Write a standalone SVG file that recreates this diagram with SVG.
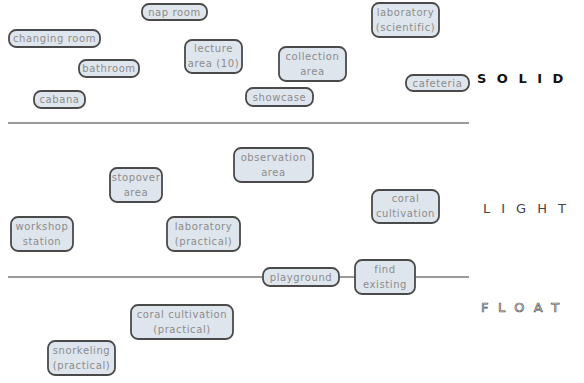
<svg xmlns="http://www.w3.org/2000/svg" width="584" height="383" viewBox="0 0 584 383">
<style>
.n rect{fill:#dfe5ec;stroke:#4a4a4a;stroke-width:1.8}
.n text{font-family:"DejaVu Sans",sans-serif;font-size:10px;fill:#8c8c8c;text-anchor:middle;letter-spacing:0.6px}
.div{stroke:#9a9a9a;stroke-width:2;fill:none}
.lbl{font-family:"DejaVu Sans",sans-serif;font-size:13px}
</style>
<rect width="584" height="383" fill="#ffffff"/>
<g id="dividers">
<line class="div" x1="8" y1="123" x2="469" y2="123"/>
<line class="div" x1="8" y1="277" x2="469" y2="277"/>
</g>
<g id="nap-room" class="n"><rect x="142" y="4" width="65" height="16" rx="7"/><text x="174.5" y="15.5">nap room</text></g>
<g id="changing-room" class="n"><rect x="9" y="30" width="91" height="17" rx="7"/><text x="54.5" y="42">changing room</text></g>
<g id="bathroom" class="n"><rect x="79" y="60" width="60" height="17" rx="7"/><text x="109" y="72">bathroom</text></g>
<g id="cabana" class="n"><rect x="34" y="91" width="51" height="17" rx="7"/><text x="59.5" y="103">cabana</text></g>
<g id="lecture-area" class="n"><rect x="185" y="40" width="57" height="33" rx="7"/><text x="213.5" y="52">lecture</text><text x="213.5" y="67">area (10)</text></g>
<g id="showcase" class="n"><rect x="246" y="88" width="67" height="18" rx="7"/><text x="279.5" y="100.5">showcase</text></g>
<g id="collection-area" class="n"><rect x="279" y="47" width="67" height="34" rx="7"/><text x="312.5" y="59.5">collection</text><text x="312.5" y="74.5">area</text></g>
<g id="laboratory-scientific" class="n"><rect x="372" y="3" width="67" height="34" rx="7"/><text x="405.5" y="15.5">laboratory</text><text x="405.5" y="30.5">(scientific)</text></g>
<g id="cafeteria" class="n"><rect x="406" y="75" width="63" height="16" rx="7"/><text x="437.5" y="86.5">cafeteria</text></g>
<g id="stopover-area" class="n"><rect x="110" y="168" width="52" height="34" rx="7"/><text x="136" y="180.5">stopover</text><text x="136" y="195.5">area</text></g>
<g id="observation-area" class="n"><rect x="234" y="148" width="79" height="34" rx="7"/><text x="273.5" y="160.5">observation</text><text x="273.5" y="175.5">area</text></g>
<g id="workshop-station" class="n"><rect x="11" y="217" width="62" height="34" rx="7"/><text x="42" y="229.5">workshop</text><text x="42" y="244.5">station</text></g>
<g id="laboratory-practical" class="n"><rect x="167" y="217" width="73" height="34" rx="7"/><text x="203.5" y="229.5">laboratory</text><text x="203.5" y="244.5">(practical)</text></g>
<g id="coral-cultivation" class="n"><rect x="372" y="190" width="67" height="33" rx="7"/><text x="405.5" y="202">coral</text><text x="405.5" y="217">cultivation</text></g>
<g id="playground" class="n"><rect x="263" y="268" width="76" height="18" rx="7"/><text x="301" y="280.5">playground</text></g>
<g id="find-existing" class="n"><rect x="355" y="260" width="60" height="34" rx="7"/><text x="385" y="272.5">find</text><text x="385" y="287.5">existing</text></g>
<g id="coral-cultivation-practical" class="n"><rect x="131" y="305" width="102" height="34" rx="7"/><text x="182" y="317.5">coral cultivation</text><text x="182" y="332.5">(practical)</text></g>
<g id="snorkeling-practical" class="n"><rect x="48" y="341" width="67" height="34" rx="7"/><text x="81.5" y="353.5">snorkeling</text><text x="81.5" y="368.5">(practical)</text></g>
<g id="labels">
<text class="lbl" x="477" y="83" font-weight="bold" fill="#111" letter-spacing="10.5" font-size="12.5">SOLID</text>
<text class="lbl" x="483" y="213" fill="#444" letter-spacing="11" font-size="14" font-family="Liberation Sans, sans-serif">LIGHT</text>
<text class="lbl" x="481" y="312" fill="#ffffff" stroke="#555" stroke-width="0.7" letter-spacing="9.5" font-size="15">FLOAT</text>
</g>
</svg>
